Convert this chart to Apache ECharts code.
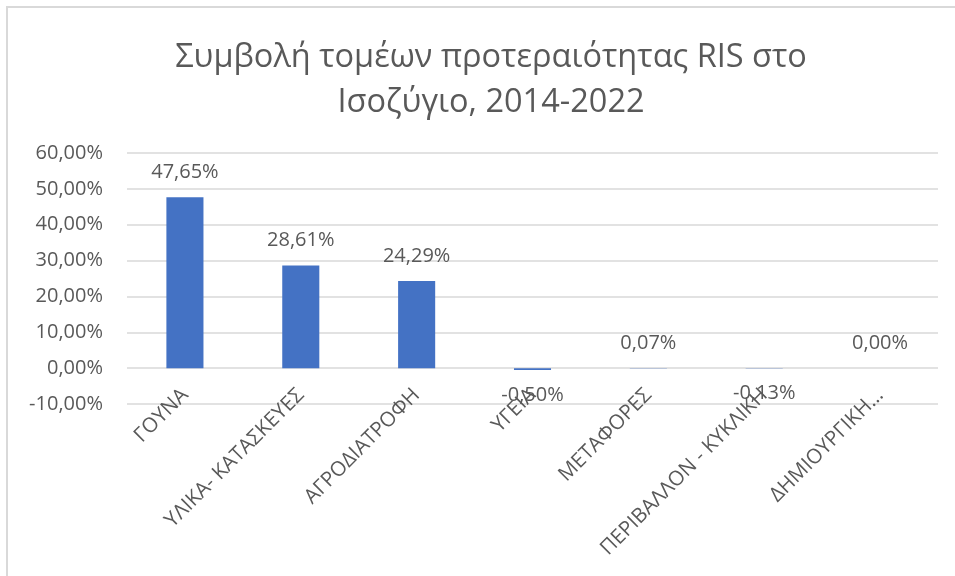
<!DOCTYPE html>
<html>
<head>
<meta charset="utf-8">
<script src="https://cdn.jsdelivr.net/npm/echarts@6/dist/echarts.min.js"></script>
<style>
  html, body { margin: 0; padding: 0; background: #fff; }
  #chart { width: 955px; height: 576px; }
</style>
</head>
<body>
<div id="chart"></div>
<script>
// τομείς και συμβολή στο ισοζύγιο (%)
const sectors = ['ΓΟΥΝΑ', 'ΥΛΙΚΑ- ΚΑΤΑΣΚΕΥΕΣ', 'ΑΓΡΟΔΙΑΤΡΟΦΗ', 'ΥΓΕΙΑ', 'ΜΕΤΑΦΟΡΕΣ', 'ΠΕΡΙΒΑΛΛΟΝ - ΚΥΚΛΙΚΗ', 'ΔΗΜΙΟΥΡΓΙΚΗ…'];
const shares = [47.65, 28.61, 24.29, -0.50, 0.07, -0.13, 0.00];
const yTicks = { min: -10, max: 60, step: 10 };

const FONT = '"Open Sans", sans-serif';
const GREY = '#595959';
const pct = v => v.toFixed(2).replace('.', ',') + '%';

const chart = echarts.init(document.getElementById('chart'));

chart.setOption({
  animation: false,
  textStyle: { fontFamily: FONT },
  title: {
    text: 'Συμβολή τομέων προτεραιότητας RIS στο\nΙσοζύγιο, 2014-2022',
    left: 486,
    top: 30,
    textAlign: 'center',
    textStyle: { fontFamily: FONT, fontSize: 32.5, fontWeight: 'normal', color: GREY, lineHeight: 45 }
  },
  graphic: [{
    type: 'rect',
    shape: { x: 7, y: 7, width: 1200, height: 1000 },
    style: { fill: 'none', stroke: '#d9d9d9', lineWidth: 2 },
    silent: true
  }],
  grid: { left: 127, right: 17, top: 153, bottom: 172 },
  xAxis: {
    type: 'category',
    data: sectors,
    axisLine: { show: false, onZero: false },
    axisTick: { show: false },
    axisLabel: {
      rotate: 45,
      interval: 0,
      margin: -12,
      color: GREY,
      fontSize: 20.5,
      fontFamily: FONT
    }
  },
  yAxis: {
    type: 'value',
    min: yTicks.min,
    max: yTicks.max,
    interval: yTicks.step,
    axisLine: { show: false },
    axisTick: { show: false },
    axisLabel: { formatter: pct, color: GREY, fontSize: 20, fontFamily: FONT, margin: 24 },
    splitLine: { lineStyle: { color: '#d9d9d9', width: 1.5 } }
  },
  series: [{
    type: 'bar',
    barWidth: '32%',
    itemStyle: { color: '#4472C4' },
    data: shares.map(v => ({
      value: v,
      label: { position: v < 0 ? 'bottom' : 'top' }
    })),
    label: {
      show: true,
      distance: 15,
      formatter: p => pct(p.value),
      color: GREY,
      fontSize: 20,
      fontFamily: FONT
    }
  }]
});
</script>
</body>
</html>
